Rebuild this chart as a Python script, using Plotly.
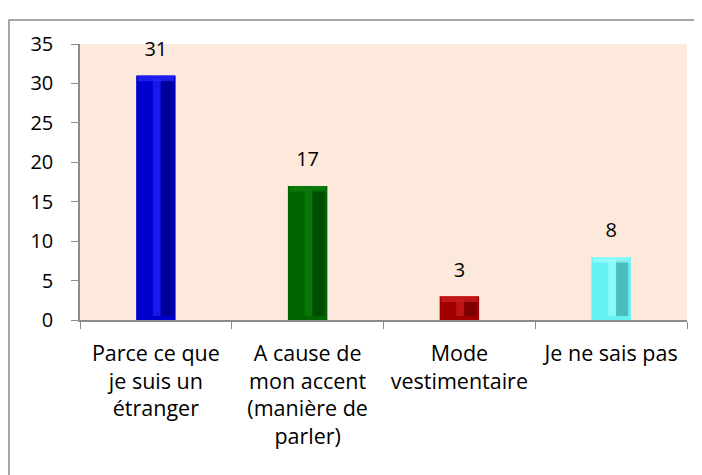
import plotly.graph_objects as go

categories = ["Parce ce que<br>je suis un<br>étranger",
              "A cause de<br>mon accent<br>(manière de<br>parler)",
              "Mode<br>vestimentaire",
              "Je ne sais pas"]
values = [31, 17, 3, 8]
colors = ["#0000CC", "#006400", "#A00000", "#66F2F2"]
dark_colors = ["#000066", "#003300", "#5A0000", "#2E8A8A"]
light_colors = ["#2A2AFF", "#0C800C", "#D02020", "#A0FFFF"]
y_ticks = [0, 5, 10, 15, 20, 25, 30, 35]

FONT = "Open Sans"
FS = 20
XFS = 21.5
CAP = 0.9

fig = go.Figure()
# main bar
fig.add_trace(go.Bar(x=categories, y=values, width=0.26,
                     marker=dict(color=colors, line=dict(width=0)),
                     hoverinfo="skip"))
# bevel: darker right side strip
fig.add_trace(go.Bar(x=categories, y=[v - CAP for v in values], base=[0.5] * len(values),
                     width=0.08, offset=0.033,
                     marker=dict(color=dark_colors, line=dict(width=0), opacity=0.5),
                     hoverinfo="skip"))
# bevel: lighter inner strip
fig.add_trace(go.Bar(x=categories, y=[v - CAP for v in values], base=[0.5] * len(values),
                     width=0.05, offset=-0.02,
                     marker=dict(color=light_colors, line=dict(width=0), opacity=0.6),
                     hoverinfo="skip"))
# bevel: lighter top cap
fig.add_trace(go.Bar(x=categories, y=[CAP * 0.8] * len(values),
                     base=[v - CAP * 0.8 for v in values], width=0.24,
                     marker=dict(color=light_colors, line=dict(width=0), opacity=0.7),
                     hoverinfo="skip"))
# value labels
fig.add_trace(go.Scatter(x=categories, y=values, mode="markers+text",
                         text=[str(v) for v in values], textposition="top center",
                         marker=dict(size=22, opacity=0),
                         textfont=dict(size=FS, color="black", family=FONT),
                         cliponaxis=False, hoverinfo="skip"))

fig.update_layout(
    width=702, height=475,
    barmode="overlay",
    showlegend=False,
    paper_bgcolor="white",
    plot_bgcolor="#FCE9DB",
    margin=dict(l=72, r=23, t=36, b=163),
    font=dict(family=FONT, size=FS, color="black"),
    shapes=[dict(type="rect", xref="paper", yref="paper",
                 x0=-0.117, x1=1.3, y0=-1.5, y1=1.087,
                 line=dict(color="#8C8C8C", width=1.5), layer="below")],
)
fig.update_xaxes(showline=True, linecolor="#8C8C8C", linewidth=1.5,
                 ticks="outside", ticklen=7, tickcolor="#8C8C8C",
                 tickson="boundaries", showgrid=False,
                 ticklabelstandoff=13,
                 tickfont=dict(size=XFS, family=FONT))
fig.update_yaxes(range=[0, 35], tickvals=y_ticks, showline=True,
                 linecolor="#8C8C8C", linewidth=1.5, ticks="outside",
                 ticklen=7, tickcolor="#8C8C8C", showgrid=False,
                 zeroline=False, ticklabelstandoff=14,
                 tickfont=dict(size=FS, family=FONT))

fig.write_html("out.html")
